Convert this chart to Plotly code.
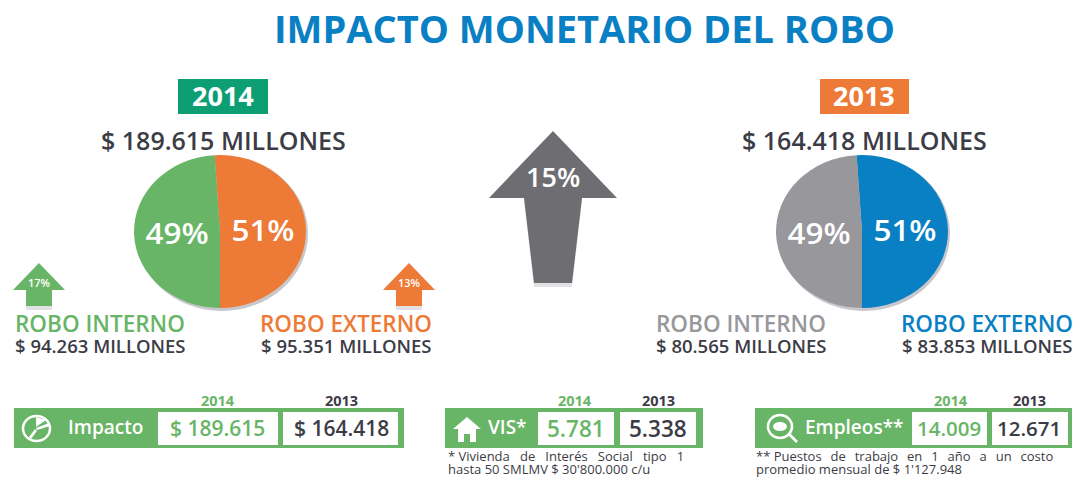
import plotly.graph_objects as go

W = 1076
H = 478

titulo = 'IMPACTO MONETARIO DEL ROBO'
pct_2014 = [51, 49]
pct_2013 = [51, 49]
total_2014 = '$ 189.615 MILLONES'
total_2013 = '$ 164.418 MILLONES'
interno_2014 = '$ 94.263 MILLONES'
externo_2014 = '$ 95.351 MILLONES'
interno_2013 = '$ 80.565 MILLONES'
externo_2013 = '$ 83.853 MILLONES'

VERDE = '#69B567'
VERDE_OSC = '#0E9E74'
NARANJA = '#ED7B37'
AZUL = '#0A80C4'
GRIS = '#98979C'
GRIS_OSC = '#6E6D72'
TEXTO = '#3C3C46'
FUENTE = 'Open Sans'

# las tortas del original estan estiradas a lo ancho
PIE_R = 76.5
PIE_Y = 231.5
PIE_ESCALA = 1.124
PIE_X = [220, 862]


def px(x):
    return x / W


def py(y):
    return 1 - y / H


def path(puntos):
    return 'M ' + ' L '.join(f'{px(x):.4f},{py(y):.4f}' for x, y in puntos) + ' Z'


def rect(shapes, x0, y0, x1, y1, color):
    shapes.append(dict(type='rect', xref='paper', yref='paper', x0=px(x0), x1=px(x1),
                       y0=py(y1), y1=py(y0), fillcolor=color, line_width=0, layer='above'))


def poly(shapes, puntos, color):
    shapes.append(dict(type='path', xref='paper', yref='paper', path=path(puntos),
                       fillcolor=color, line_width=0, layer='above'))


def ellipse(shapes, x0, y0, x1, y1, fill, line=None, width=0):
    shapes.append(dict(type='circle', xref='paper', yref='paper', x0=px(x0), x1=px(x1),
                       y0=py(y1), y1=py(y0), fillcolor=fill,
                       line=dict(color=line or fill, width=width), layer='above'))


def texto(annots, x, y, s, size, color, weight=600, anchor='center'):
    annots.append(dict(x=px(x), y=py(y), xref='paper', yref='paper', text=s, showarrow=False,
                       xanchor=anchor, yanchor='middle', align=anchor,
                       font=dict(family=FUENTE, size=size, color=color, weight=weight)))


def flecha(shapes, cx, tip, ala, base_y, cuello, pie, fin, color):
    sombra = [(cx - cuello, base_y + 3), (cx + cuello, base_y + 3), (cx + pie, fin + 4), (cx - pie, fin + 4)]
    poly(shapes, sombra, '#E2E2E4')
    poly(shapes, [(cx, tip), (cx + ala, base_y), (cx + cuello, base_y), (cx + pie, fin),
                  (cx - pie, fin), (cx - cuello, base_y), (cx - ala, base_y)], color)


def pie(valores, colores, cx):
    return go.Pie(values=valores, marker=dict(colors=colores), sort=False, direction='clockwise',
                  rotation=-3.6, textinfo='percent', textposition='inside', insidetextorientation='horizontal',
                  textfont=dict(family=FUENTE, size=28, color='white', weight=600), showlegend=False, hole=0,
                  domain=dict(x=[px(cx - PIE_R), px(cx + PIE_R)], y=[py(PIE_Y + PIE_R), py(PIE_Y - PIE_R)]))


shapes = []
annots = []

# etiquetas de año
rect(shapes, 178, 79, 268, 114, VERDE_OSC)
rect(shapes, 820, 79, 909, 114, NARANJA)

# sombras de las tortas
for cx in PIE_X:
    shapes.append(dict(type='circle', xref='paper', yref='paper', layer='below',
                       x0=px(cx - 84), x1=px(cx + 88), y0=py(311), y1=py(156),
                       fillcolor='#C8C8CC', line_width=0))

# flechas
flecha(shapes, 553, 131, 64, 198, 29, 19, 283, GRIS_OSC)
flecha(shapes, 39, 263, 26, 290, 13, 13, 306, VERDE)
flecha(shapes, 409, 263, 26, 290, 13, 13, 306, NARANJA)

# tablas
rect(shapes, 14, 408, 404, 448, VERDE)
rect(shapes, 158, 412, 278, 445, 'white')
rect(shapes, 283, 412, 398, 445, 'white')
rect(shapes, 445, 408, 703, 448, VERDE)
rect(shapes, 538, 412, 614, 445, 'white')
rect(shapes, 620, 412, 696, 445, 'white')
rect(shapes, 755, 408, 1072, 448, VERDE)
rect(shapes, 912, 412, 987, 445, 'white')
rect(shapes, 992, 412, 1068, 445, 'white')

# iconos
ellipse(shapes, 23, 416, 50, 441, VERDE, 'white', 2.5)
poly(shapes, [(36, 428), (49, 423), (50, 426), (37, 430)], 'white')
poly(shapes, [(35, 429), (37, 431), (31, 439), (29, 437)], 'white')
poly(shapes, [(36, 417), (46, 420), (36, 427)], 'white')
poly(shapes, [(453, 429), (467, 417), (481, 429), (476, 429), (476, 442), (470, 442),
              (470, 434), (464, 434), (464, 442), (458, 442), (458, 429)], 'white')
ellipse(shapes, 768, 415, 792, 438, VERDE, 'white', 2.5)
ellipse(shapes, 773, 422, 787, 431, 'white')
poly(shapes, [(788, 435), (790, 433), (798, 441), (796, 443)], 'white')

texto(annots, 585, 28, titulo, 38, AZUL, 700)
texto(annots, 223, 96, '2014', 27, 'white', 700)
texto(annots, 864, 96, '2013', 27, 'white', 700)
texto(annots, 223, 140, total_2014, 25, TEXTO)
texto(annots, 864, 140, total_2013, 25, TEXTO)
texto(annots, 553, 176, '15%', 27, 'white')
texto(annots, 39, 282, '17%', 11, 'white')
texto(annots, 409, 282, '13%', 11, 'white')
texto(annots, 100, 323, 'ROBO INTERNO', 22.5, VERDE)
texto(annots, 346, 323, 'ROBO EXTERNO', 22.5, NARANJA)
texto(annots, 741, 323, 'ROBO INTERNO', 22.5, GRIS)
texto(annots, 987, 323, 'ROBO EXTERNO', 22.5, AZUL)
texto(annots, 100, 345, interno_2014, 18.5, TEXTO)
texto(annots, 346, 345, externo_2014, 18.5, TEXTO)
texto(annots, 741, 345, interno_2013, 18.5, TEXTO)
texto(annots, 987, 345, externo_2013, 18.5, TEXTO)

for x, s, c in [(218, '2014', VERDE), (341, '2013', TEXTO), (575, '2014', VERDE), (658, '2013', TEXTO),
                (951, '2014', VERDE), (1029, '2013', TEXTO)]:
    texto(annots, x, 400, s, 14.5, c, 700)

texto(annots, 105, 427, 'Impacto', 19, 'white')
texto(annots, 218, 428, '$ 189.615', 21, VERDE)
texto(annots, 341, 428, '$ 164.418', 21, TEXTO)
texto(annots, 507, 427, 'VIS*', 19, 'white')
texto(annots, 576, 428, '5.781', 22.5, VERDE)
texto(annots, 658, 428, '5.338', 22.5, TEXTO)
texto(annots, 854, 427, 'Empleos**', 19, 'white')
texto(annots, 949, 428, '14.009', 20.5, VERDE)
texto(annots, 1029, 428, '12.671', 20.5, TEXTO)

NB = '\u00a0'
ESP = NB * 3
ESP2 = NB * 2 + '\u2009'
texto(annots, 446, 456, f'*{NB}Vivienda{ESP}de{ESP}Interés{ESP}Social{ESP}tipo{ESP}1', 13, TEXTO, 400, 'left')
texto(annots, 446, 469, "hasta 50 SMLMV $ 30'800.000 c/u", 13, TEXTO, 400, 'left')
texto(annots, 754, 456, f'**{NB}Puestos{ESP2}de{ESP2}trabajo{ESP2}en{ESP2}1{ESP2}año{ESP2}a{ESP2}un{ESP2}costo', 13, TEXTO, 400, 'left')
texto(annots, 754, 469, "promedio mensual de $ 1'127.948", 13, TEXTO, 400, 'left')

fig = go.Figure()
fig.add_trace(pie(pct_2014, [NARANJA, VERDE], PIE_X[0]))
fig.add_trace(pie(pct_2013, [AZUL, GRIS], PIE_X[1]))
fig.update_layout(width=W, height=H, margin=dict(l=0, r=0, t=0, b=0), paper_bgcolor='white',
                  plot_bgcolor='white', shapes=shapes, annotations=annots)

post = """
document.body.style.margin = '0';
document.body.style.overflow = 'hidden';
var cxs = %s;
document.querySelectorAll('.pielayer .trace').forEach(function (t, i) {
    t.setAttribute('transform', 'translate(' + cxs[i] + ',0) scale(%s,1) translate(' + (-cxs[i]) + ',0)');
});
""" % (PIE_X, PIE_ESCALA)
fig.write_html('out.html', config=dict(displayModeBar=False), post_script=post)
